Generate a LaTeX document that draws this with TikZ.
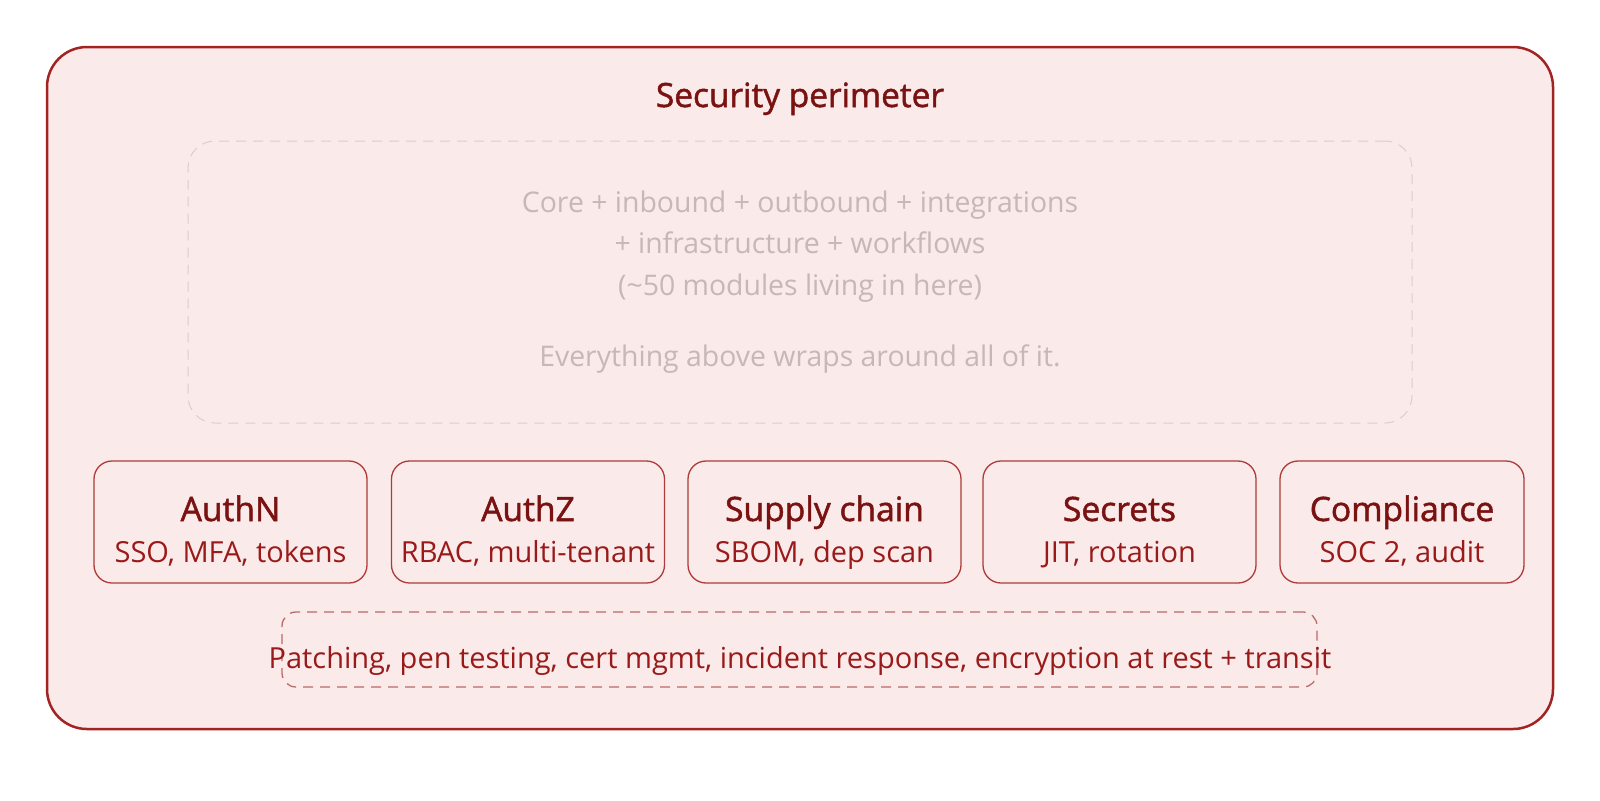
\documentclass[tikz,border=0pt]{standalone}
\usepackage{fontspec}
\setmainfont{Open Sans}
\newfontfamily\semib{Open Sans}[FakeBold=1.5]
\definecolor{outerfill}{HTML}{FBEAEA}
\definecolor{outerline}{HTML}{A32222}
\definecolor{titlered}{HTML}{7A1212}
\definecolor{subred}{HTML}{9A1A1A}
\definecolor{boxline}{HTML}{AE3A3A}
\definecolor{ghost}{HTML}{C9B6B8}
\definecolor{ghostline}{HTML}{DCCDCE}
\definecolor{dashline}{HTML}{BA6A6A}
\tikzset{
  px/.style={x=0.5pt,y=-0.5pt},
  card/.style={draw=boxline, line width=0.65pt, rounded corners=9pt, inner sep=0pt,
    minimum height=61pt},
  cardtitle/.style={text=titlered, font=\semib\fontsize{16.8}{19}\selectfont, inner sep=0pt, anchor=base},
  cardsub/.style={text=subred, font=\fontsize{14.5}{17}\selectfont, inner sep=0pt, anchor=base},
  ghosttext/.style={text=ghost, font=\fontsize{14.2}{17}\selectfont, inner sep=0pt, anchor=base},
}
\begin{document}
\begin{tikzpicture}[px]
\useasboundingbox (0,0) rectangle (1600,800);
\fill[white] (0,0) rectangle (1600,800);
% outer perimeter
\node[draw=outerline, fill=outerfill, line width=1.25pt, rounded corners=20pt,
      minimum width=753pt, minimum height=341pt, inner sep=0pt] (perim) at (800,388) {};
\node[text=titlered, font=\semib\fontsize{16.7}{19}\selectfont, inner sep=0pt, anchor=base] (ptitle) at (800,107) {Security perimeter};
% inner ghost box
\node[draw=ghostline, dashed, dash pattern=on 5pt off 3.5pt, line width=0.5pt, rounded corners=13.5pt,
      minimum width=612pt, minimum height=141pt, inner sep=0pt] (core) at (800,282) {};
\node[ghosttext] (g1) at (800,212) {Core + inbound + outbound + integrations};
\node[ghosttext] (g2) at (800,253) {+ infrastructure + workflows};
\node[ghosttext] (g3) at (800,295) {(\char"007E 50 modules living in here)};
\node[ghosttext] (g4) at (800,366) {Everything above wraps around all of it.};
% cards
\node[card, minimum width=136.5pt] (authn) at (230.5,522) {};
\node[card, minimum width=136.5pt] (authz) at (528,522) {};
\node[card, minimum width=136.5pt] (supply) at (824.5,522) {};
\node[card, minimum width=136.5pt] (secrets) at (1119.5,522) {};
\node[card, minimum width=122pt] (compl) at (1402,522) {};
\node[cardtitle] (authnT) at (230.5,521) {AuthN};
\node[cardsub] (authnS) at (230.5,562) {SSO, MFA, tokens};
\node[cardtitle] (authzT) at (528,521) {AuthZ};
\node[cardsub] (authzS) at (528,562) {RBAC, multi-tenant};
\node[cardtitle] (supplyT) at (824.5,521) {Supply chain};
\node[cardsub] (supplyS) at (824.5,562) {SBOM, dep scan};
\node[cardtitle] (secretsT) at (1119.5,521) {Secrets};
\node[cardsub] (secretsS) at (1119.5,562) {JIT, rotation};
\node[cardtitle] (complT) at (1402,521) {Compliance};
\node[cardsub] (complS) at (1402,562) {SOC 2, audit};
% bottom dashed box
\node[draw=dashline, dashed, dash pattern=on 5pt off 3.5pt, line width=0.65pt, rounded corners=7pt,
      minimum width=517.5pt, minimum height=37.5pt, inner sep=0pt] (ops) at (799.5,649.5) {};
\node[cardsub] (opsT) at (800,668) {Patching, pen testing, cert mgmt, incident response, encryption at rest + transit};
\end{tikzpicture}
\end{document}
